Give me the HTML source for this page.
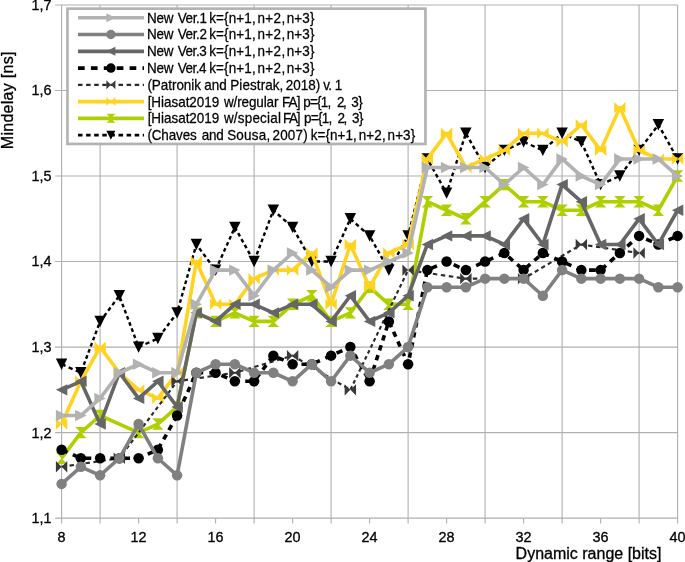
<!DOCTYPE html>
<html><head><meta charset="utf-8"><title>Chart</title>
<style>html,body{margin:0;padding:0;background:#fff}svg{display:block}</style></head>
<body>
<svg width="685" height="562" viewBox="0 0 685 562" font-family="'Liberation Sans', sans-serif">
<rect width="685" height="562" fill="#fff"/>
<path d="M55.1 518.12H677.60 M55.1 432.60H677.60 M55.1 347.08H677.60 M55.1 261.56H677.60 M55.1 176.04H677.60 M55.1 90.52H677.60 M55.1 5.00H677.60 M61.60 5.00V523.62 M100.10 5.00V523.62 M177.10 5.00V523.62 M254.10 5.00V523.62 M331.10 5.00V523.62 M408.10 5.00V523.62 M485.10 5.00V523.62 M562.10 5.00V523.62 M639.10 5.00V523.62 M677.60 5.00V523.62 M138.60 518.12V523.62 M215.60 518.12V523.62 M292.60 518.12V523.62 M369.60 518.12V523.62 M446.60 518.12V523.62 M523.60 518.12V523.62 M600.60 518.12V523.62" stroke="#b0b0b0" stroke-width="1.1" fill="none"/>
<g><path d="M61.60 364.18L65.53 365.93M68.67 367.32L72.59 369.07M75.74 370.46L79.66 372.21M81.49 371.03L82.77 367.61M83.80 364.87L85.08 361.45M86.11 358.71L87.40 355.29M88.42 352.55L89.71 349.13M90.73 346.39L92.02 342.96M93.05 340.23L94.33 336.80M95.36 334.07L96.64 330.64M97.67 327.90L98.95 324.48M99.98 321.74L100.10 321.42L102.19 318.64M104.03 316.19L106.33 313.12M108.17 310.66L110.48 307.59M112.32 305.14L114.62 302.07M116.46 299.62L118.77 296.55M120.05 297.64L121.34 301.06M122.36 303.80L123.65 307.22M124.67 309.96L125.96 313.38M126.99 316.12L128.27 319.54M129.30 322.28L130.58 325.71M131.61 328.44L132.89 331.87M133.92 334.60L135.20 338.03M136.23 340.77L137.52 344.19M138.54 346.93L138.60 347.08L142.35 345.41M145.49 344.02L149.42 342.27M152.56 340.88L156.49 339.13M158.89 337.14L161.20 334.07M163.04 331.61L165.34 328.55M167.18 326.09L169.48 323.02M171.33 320.57L173.63 317.50M175.47 315.04L177.10 312.87L177.39 311.85M178.17 309.07L179.15 305.58M179.94 302.79L180.92 299.31M181.70 296.52L182.68 293.03M183.47 290.24L184.45 286.76M185.23 283.97L186.21 280.48M187.00 277.70L187.98 274.21M188.76 271.42L189.74 267.94M190.53 265.15L191.51 261.66M192.29 258.87L193.27 255.39M194.06 252.60L195.04 249.11M195.82 246.32L196.35 244.46L197.42 245.88M199.26 248.33L201.56 251.40M203.40 253.86L205.71 256.93M207.55 259.38L209.85 262.45M211.69 264.90L213.99 267.97M215.76 269.77L217.27 266.40M218.48 263.71L220.00 260.35M221.21 257.66L222.72 254.30M223.93 251.60L225.45 248.24M226.66 245.55L228.17 242.19M229.38 239.50L230.90 236.13M232.11 233.44L233.62 230.08M234.83 227.39L234.85 227.35L236.66 230.58M238.13 233.19L239.97 236.45M241.44 239.06L243.27 242.32M244.74 244.92L246.57 248.19M248.04 250.79L249.88 254.06M251.35 256.66L253.18 259.93M254.48 260.54L255.77 257.11M256.80 254.38L258.08 250.95M259.11 248.21L260.39 244.79M261.42 242.05L262.70 238.63M263.73 235.89L265.01 232.47M266.04 229.73L267.32 226.31M268.35 223.57L269.64 220.15M270.66 217.41L271.95 213.99M272.98 211.25L273.35 210.25L275.47 212.13M277.87 214.26L280.87 216.93M283.27 219.06L286.26 221.72M288.66 223.85L291.66 226.52M293.49 228.94L295.33 232.20M296.80 234.81L298.63 238.07M300.10 240.68L301.93 243.94M303.40 246.55L305.24 249.81M306.71 252.42L308.54 255.68M310.01 258.29L311.84 261.55M315.43 261.56L319.93 261.56M323.53 261.56L328.03 261.56M331.28 261.16L332.79 257.80M334.01 255.11L335.52 251.74M336.73 249.05L338.24 245.69M339.46 243.00L340.97 239.64M342.18 236.95L343.70 233.58M344.91 230.89L346.42 227.53M347.63 224.84L349.15 221.47M350.36 218.81L353.36 221.48M355.76 223.61L358.76 226.27M361.16 228.40L364.15 231.06M366.55 233.20L369.55 235.86M371.04 238.46L372.87 241.72M374.34 244.33L376.18 247.59M377.64 250.20L379.48 253.46M380.95 256.07L382.78 259.33M384.25 261.94L386.08 265.20M387.55 267.81L388.85 270.11L389.39 269.16M390.86 266.55L392.69 263.29M394.16 260.68L395.99 257.42M397.46 254.81L399.30 251.55M400.77 248.94L402.60 245.68M404.07 243.07L405.90 239.81M407.37 237.20L408.10 235.90L408.63 233.79M409.33 230.99L410.21 227.49M410.91 224.68L411.78 221.18M412.48 218.38L413.36 214.87M414.06 212.07L414.94 208.57M415.64 205.77L416.51 202.26M417.21 199.46L418.09 195.96M418.79 193.16L419.67 189.65M420.37 186.85L421.24 183.35M421.95 180.54L422.82 177.04M423.52 174.24L424.40 170.74M425.10 167.93L425.98 164.43M426.68 161.63L427.35 158.94L427.77 159.69M429.24 162.30L431.08 165.56M432.55 168.17L434.38 171.43M435.85 174.04L437.68 177.30M439.15 179.91L440.99 183.17M442.46 185.78L444.29 189.04M445.76 191.65L446.60 193.14L447.20 191.27M448.09 188.50L449.21 185.04M450.10 182.27L451.21 178.81M452.10 176.04L453.21 172.58M454.10 169.82L455.21 166.35M456.10 163.59L457.22 160.13M458.11 157.36L459.22 153.90M460.11 151.13L461.22 147.67M462.11 144.90L463.23 141.44M464.12 138.67L465.23 135.21M466.29 134.07L468.13 137.33M469.60 139.94L471.43 143.20M472.90 145.81L474.74 149.07M476.20 151.68L478.04 154.94M479.51 157.55L481.34 160.81M482.81 163.42L484.65 166.68M486.76 166.02L489.75 163.35M492.15 161.22L495.15 158.56M497.55 156.43L500.55 153.76M502.94 151.63L504.35 150.38L506.43 149.46M509.58 148.06L513.50 146.32M516.64 144.92L520.57 143.18M523.71 141.88L527.64 143.63M530.78 145.02L534.71 146.77M537.85 148.16L541.77 149.91M544.43 148.98L547.42 146.32M549.82 144.19L552.82 141.53M555.22 139.39L558.22 136.73M560.61 134.60L562.10 133.28L564.08 134.16M567.22 135.56L571.15 137.30M574.29 138.70L578.22 140.44M581.35 141.84L582.87 145.20M584.08 147.89L585.59 151.26M586.80 153.95L588.32 157.31M589.53 160.00L591.04 163.36M592.25 166.05L593.77 169.42M594.98 172.11L596.49 175.47M597.71 178.16L599.22 181.53M600.43 184.22L600.60 184.59L604.09 183.04M607.23 181.65L611.16 179.90M614.30 178.51L618.22 176.76M620.74 174.86L623.04 171.79M624.88 169.33L627.18 166.26M629.03 163.81L631.33 160.74M633.17 158.29L635.47 155.22M637.32 152.76L639.10 150.38L639.62 149.69M641.46 147.24L643.76 144.17M645.60 141.72L647.91 138.65M649.75 136.19L652.05 133.12M653.89 130.67L656.19 127.60M658.04 125.15L658.35 124.73L659.94 127.55M661.40 130.15L663.24 133.41M664.71 136.02L666.54 139.28M668.01 141.89L669.84 145.15M671.31 147.76L673.15 151.02M674.62 153.63L676.45 156.89" fill="none" stroke="#000000" stroke-width="2.4" stroke-linejoin="round"/>
<polygon points="55.90,358.48 67.30,358.48 61.60,369.88" fill="#000000"/><polygon points="75.15,367.04 86.55,367.04 80.85,378.44" fill="#000000"/><polygon points="94.40,315.72 105.80,315.72 100.10,327.12" fill="#000000"/><polygon points="113.65,290.07 125.05,290.07 119.35,301.47" fill="#000000"/><polygon points="132.90,341.38 144.30,341.38 138.60,352.78" fill="#000000"/><polygon points="152.15,332.83 163.55,332.83 157.85,344.23" fill="#000000"/><polygon points="171.40,307.17 182.80,307.17 177.10,318.57" fill="#000000"/><polygon points="190.65,238.76 202.05,238.76 196.35,250.16" fill="#000000"/><polygon points="209.90,264.41 221.30,264.41 215.60,275.81" fill="#000000"/><polygon points="229.15,221.65 240.55,221.65 234.85,233.05" fill="#000000"/><polygon points="248.40,255.86 259.80,255.86 254.10,267.26" fill="#000000"/><polygon points="267.65,204.55 279.05,204.55 273.35,215.95" fill="#000000"/><polygon points="286.90,221.65 298.30,221.65 292.60,233.05" fill="#000000"/><polygon points="306.15,255.86 317.55,255.86 311.85,267.26" fill="#000000"/><polygon points="325.40,255.86 336.80,255.86 331.10,267.26" fill="#000000"/><polygon points="344.65,213.10 356.05,213.10 350.35,224.50" fill="#000000"/><polygon points="363.90,230.20 375.30,230.20 369.60,241.60" fill="#000000"/><polygon points="383.15,264.41 394.55,264.41 388.85,275.81" fill="#000000"/><polygon points="402.40,230.20 413.80,230.20 408.10,241.60" fill="#000000"/><polygon points="421.65,153.24 433.05,153.24 427.35,164.64" fill="#000000"/><polygon points="440.90,187.44 452.30,187.44 446.60,198.84" fill="#000000"/><polygon points="460.15,127.58 471.55,127.58 465.85,138.98" fill="#000000"/><polygon points="479.40,161.79 490.80,161.79 485.10,173.19" fill="#000000"/><polygon points="498.65,144.68 510.05,144.68 504.35,156.08" fill="#000000"/><polygon points="517.90,136.13 529.30,136.13 523.60,147.53" fill="#000000"/><polygon points="537.15,144.68 548.55,144.68 542.85,156.08" fill="#000000"/><polygon points="556.40,127.58 567.80,127.58 562.10,138.98" fill="#000000"/><polygon points="575.65,136.13 587.05,136.13 581.35,147.53" fill="#000000"/><polygon points="594.90,178.89 606.30,178.89 600.60,190.29" fill="#000000"/><polygon points="614.15,170.34 625.55,170.34 619.85,181.74" fill="#000000"/><polygon points="633.40,144.68 644.80,144.68 639.10,156.08" fill="#000000"/><polygon points="652.65,119.03 664.05,119.03 658.35,130.43" fill="#000000"/><polygon points="671.90,153.24 683.30,153.24 677.60,164.64" fill="#000000"/>
</g>
<g><polyline points="61.60,458.26 80.85,432.60 100.10,415.50 119.35,424.05 138.60,432.60 157.85,424.05 177.10,406.94 196.35,312.87 215.60,321.42 234.85,312.87 254.10,321.42 273.35,321.42 292.60,304.32 311.85,295.77 331.10,321.42 350.35,312.87 369.60,287.22 388.85,304.32 408.10,304.32 427.35,201.70 446.60,210.25 465.85,218.80 485.10,201.70 504.35,184.59 523.60,201.70 542.85,201.70 562.10,210.25 581.35,210.25 600.60,201.70 619.85,201.70 639.10,201.70 658.35,210.25 677.60,176.04" fill="none" stroke="#aecf00" stroke-width="3.6" stroke-linejoin="round"/>
<polygon points="55.90,452.56 67.30,452.56 61.60,458.26 67.30,463.96 55.90,463.96 61.60,458.26" fill="#aecf00"/><polygon points="75.15,426.90 86.55,426.90 80.85,432.60 86.55,438.30 75.15,438.30 80.85,432.60" fill="#aecf00"/><polygon points="94.40,409.80 105.80,409.80 100.10,415.50 105.80,421.20 94.40,421.20 100.10,415.50" fill="#aecf00"/><polygon points="132.90,426.90 144.30,426.90 138.60,432.60 144.30,438.30 132.90,438.30 138.60,432.60" fill="#aecf00"/><polygon points="152.15,418.35 163.55,418.35 157.85,424.05 163.55,429.75 152.15,429.75 157.85,424.05" fill="#aecf00"/><polygon points="171.40,401.24 182.80,401.24 177.10,406.94 182.80,412.64 171.40,412.64 177.10,406.94" fill="#aecf00"/><polygon points="190.65,307.17 202.05,307.17 196.35,312.87 202.05,318.57 190.65,318.57 196.35,312.87" fill="#aecf00"/><polygon points="209.90,315.72 221.30,315.72 215.60,321.42 221.30,327.12 209.90,327.12 215.60,321.42" fill="#aecf00"/><polygon points="229.15,307.17 240.55,307.17 234.85,312.87 240.55,318.57 229.15,318.57 234.85,312.87" fill="#aecf00"/><polygon points="248.40,315.72 259.80,315.72 254.10,321.42 259.80,327.12 248.40,327.12 254.10,321.42" fill="#aecf00"/><polygon points="267.65,315.72 279.05,315.72 273.35,321.42 279.05,327.12 267.65,327.12 273.35,321.42" fill="#aecf00"/><polygon points="286.90,298.62 298.30,298.62 292.60,304.32 298.30,310.02 286.90,310.02 292.60,304.32" fill="#aecf00"/><polygon points="306.15,290.07 317.55,290.07 311.85,295.77 317.55,301.47 306.15,301.47 311.85,295.77" fill="#aecf00"/><polygon points="325.40,315.72 336.80,315.72 331.10,321.42 336.80,327.12 325.40,327.12 331.10,321.42" fill="#aecf00"/><polygon points="344.65,307.17 356.05,307.17 350.35,312.87 356.05,318.57 344.65,318.57 350.35,312.87" fill="#aecf00"/><polygon points="363.90,281.52 375.30,281.52 369.60,287.22 375.30,292.92 363.90,292.92 369.60,287.22" fill="#aecf00"/><polygon points="383.15,298.62 394.55,298.62 388.85,304.32 394.55,310.02 383.15,310.02 388.85,304.32" fill="#aecf00"/><polygon points="402.40,298.62 413.80,298.62 408.10,304.32 413.80,310.02 402.40,310.02 408.10,304.32" fill="#aecf00"/><polygon points="421.65,196.00 433.05,196.00 427.35,201.70 433.05,207.40 421.65,207.40 427.35,201.70" fill="#aecf00"/><polygon points="440.90,204.55 452.30,204.55 446.60,210.25 452.30,215.95 440.90,215.95 446.60,210.25" fill="#aecf00"/><polygon points="460.15,213.10 471.55,213.10 465.85,218.80 471.55,224.50 460.15,224.50 465.85,218.80" fill="#aecf00"/><polygon points="479.40,196.00 490.80,196.00 485.10,201.70 490.80,207.40 479.40,207.40 485.10,201.70" fill="#aecf00"/><polygon points="498.65,178.89 510.05,178.89 504.35,184.59 510.05,190.29 498.65,190.29 504.35,184.59" fill="#aecf00"/><polygon points="517.90,196.00 529.30,196.00 523.60,201.70 529.30,207.40 517.90,207.40 523.60,201.70" fill="#aecf00"/><polygon points="537.15,196.00 548.55,196.00 542.85,201.70 548.55,207.40 537.15,207.40 542.85,201.70" fill="#aecf00"/><polygon points="556.40,204.55 567.80,204.55 562.10,210.25 567.80,215.95 556.40,215.95 562.10,210.25" fill="#aecf00"/><polygon points="575.65,204.55 587.05,204.55 581.35,210.25 587.05,215.95 575.65,215.95 581.35,210.25" fill="#aecf00"/><polygon points="594.90,196.00 606.30,196.00 600.60,201.70 606.30,207.40 594.90,207.40 600.60,201.70" fill="#aecf00"/><polygon points="614.15,196.00 625.55,196.00 619.85,201.70 625.55,207.40 614.15,207.40 619.85,201.70" fill="#aecf00"/><polygon points="633.40,196.00 644.80,196.00 639.10,201.70 644.80,207.40 633.40,207.40 639.10,201.70" fill="#aecf00"/><polygon points="652.65,204.55 664.05,204.55 658.35,210.25 664.05,215.95 652.65,215.95 658.35,210.25" fill="#aecf00"/><polygon points="671.90,170.34 683.30,170.34 677.60,176.04 683.30,181.74 671.90,181.74 677.60,176.04" fill="#aecf00"/>
</g>
<g><polyline points="61.60,424.05 80.85,381.29 100.10,347.08 119.35,372.74 138.60,389.84 157.85,398.39 177.10,372.74 196.35,261.56 215.60,304.32 234.85,304.32 254.10,278.66 273.35,270.11 292.60,270.11 311.85,253.01 331.10,304.32 350.35,244.46 369.60,287.22 388.85,253.01 408.10,244.46 427.35,158.94 446.60,133.28 465.85,167.49 485.10,158.94 504.35,150.38 523.60,133.28 542.85,133.28 562.10,141.83 581.35,124.73 600.60,150.38 619.85,107.62 639.10,150.38 658.35,158.94 677.60,158.94" fill="none" stroke="#ffd320" stroke-width="3.6" stroke-linejoin="round"/>
<polygon points="55.90,418.35 61.60,424.05 67.30,418.35 67.30,429.75 61.60,424.05 55.90,429.75" fill="#ffd320"/><polygon points="75.15,375.59 80.85,381.29 86.55,375.59 86.55,386.99 80.85,381.29 75.15,386.99" fill="#ffd320"/><polygon points="94.40,341.38 100.10,347.08 105.80,341.38 105.80,352.78 100.10,347.08 94.40,352.78" fill="#ffd320"/><polygon points="113.65,367.04 119.35,372.74 125.05,367.04 125.05,378.44 119.35,372.74 113.65,378.44" fill="#ffd320"/><polygon points="132.90,384.14 138.60,389.84 144.30,384.14 144.30,395.54 138.60,389.84 132.90,395.54" fill="#ffd320"/><polygon points="152.15,392.69 157.85,398.39 163.55,392.69 163.55,404.09 157.85,398.39 152.15,404.09" fill="#ffd320"/><polygon points="171.40,367.04 177.10,372.74 182.80,367.04 182.80,378.44 177.10,372.74 171.40,378.44" fill="#ffd320"/><polygon points="190.65,255.86 196.35,261.56 202.05,255.86 202.05,267.26 196.35,261.56 190.65,267.26" fill="#ffd320"/><polygon points="209.90,298.62 215.60,304.32 221.30,298.62 221.30,310.02 215.60,304.32 209.90,310.02" fill="#ffd320"/><polygon points="229.15,298.62 234.85,304.32 240.55,298.62 240.55,310.02 234.85,304.32 229.15,310.02" fill="#ffd320"/><polygon points="248.40,272.96 254.10,278.66 259.80,272.96 259.80,284.36 254.10,278.66 248.40,284.36" fill="#ffd320"/><polygon points="267.65,264.41 273.35,270.11 279.05,264.41 279.05,275.81 273.35,270.11 267.65,275.81" fill="#ffd320"/><polygon points="286.90,264.41 292.60,270.11 298.30,264.41 298.30,275.81 292.60,270.11 286.90,275.81" fill="#ffd320"/><polygon points="306.15,247.31 311.85,253.01 317.55,247.31 317.55,258.71 311.85,253.01 306.15,258.71" fill="#ffd320"/><polygon points="325.40,298.62 331.10,304.32 336.80,298.62 336.80,310.02 331.10,304.32 325.40,310.02" fill="#ffd320"/><polygon points="344.65,238.76 350.35,244.46 356.05,238.76 356.05,250.16 350.35,244.46 344.65,250.16" fill="#ffd320"/><polygon points="363.90,281.52 369.60,287.22 375.30,281.52 375.30,292.92 369.60,287.22 363.90,292.92" fill="#ffd320"/><polygon points="383.15,247.31 388.85,253.01 394.55,247.31 394.55,258.71 388.85,253.01 383.15,258.71" fill="#ffd320"/><polygon points="402.40,238.76 408.10,244.46 413.80,238.76 413.80,250.16 408.10,244.46 402.40,250.16" fill="#ffd320"/><polygon points="421.65,153.24 427.35,158.94 433.05,153.24 433.05,164.64 427.35,158.94 421.65,164.64" fill="#ffd320"/><polygon points="440.90,127.58 446.60,133.28 452.30,127.58 452.30,138.98 446.60,133.28 440.90,138.98" fill="#ffd320"/><polygon points="460.15,161.79 465.85,167.49 471.55,161.79 471.55,173.19 465.85,167.49 460.15,173.19" fill="#ffd320"/><polygon points="479.40,153.24 485.10,158.94 490.80,153.24 490.80,164.64 485.10,158.94 479.40,164.64" fill="#ffd320"/><polygon points="498.65,144.68 504.35,150.38 510.05,144.68 510.05,156.08 504.35,150.38 498.65,156.08" fill="#ffd320"/><polygon points="517.90,127.58 523.60,133.28 529.30,127.58 529.30,138.98 523.60,133.28 517.90,138.98" fill="#ffd320"/><polygon points="537.15,127.58 542.85,133.28 548.55,127.58 548.55,138.98 542.85,133.28 537.15,138.98" fill="#ffd320"/><polygon points="556.40,136.13 562.10,141.83 567.80,136.13 567.80,147.53 562.10,141.83 556.40,147.53" fill="#ffd320"/><polygon points="575.65,119.03 581.35,124.73 587.05,119.03 587.05,130.43 581.35,124.73 575.65,130.43" fill="#ffd320"/><polygon points="594.90,144.68 600.60,150.38 606.30,144.68 606.30,156.08 600.60,150.38 594.90,156.08" fill="#ffd320"/><polygon points="614.15,101.92 619.85,107.62 625.55,101.92 625.55,113.32 619.85,107.62 614.15,113.32" fill="#ffd320"/><polygon points="633.40,144.68 639.10,150.38 644.80,144.68 644.80,156.08 639.10,150.38 633.40,156.08" fill="#ffd320"/><polygon points="652.65,153.24 658.35,158.94 664.05,153.24 664.05,164.64 658.35,158.94 652.65,164.64" fill="#ffd320"/><polygon points="671.90,153.24 677.60,158.94 683.30,153.24 683.30,164.64 677.60,158.94 671.90,164.64" fill="#ffd320"/>
</g>
<g><path d="M61.60 466.81L66.02 466.15M69.56 465.63L73.99 464.97M77.53 464.45L81.95 463.79M85.49 463.27L89.91 462.62M93.45 462.09L97.87 461.44M101.41 460.91L105.84 460.26M109.38 459.73L113.80 459.08M117.34 458.55L119.35 458.26L120.61 456.58M122.45 454.13L124.75 451.06M126.59 448.60L128.89 445.54M130.74 443.08L133.04 440.01M134.88 437.56L137.18 434.49M139.02 432.03L141.33 428.97M143.17 426.51L145.47 423.44M147.31 420.99L149.62 417.92M151.46 415.46L153.76 412.40M155.60 409.94L157.90 406.87M159.75 404.42L162.05 401.35M163.89 398.89L166.19 395.83M168.03 393.37L170.34 390.30M172.18 387.85L174.48 384.78M176.32 382.32L177.10 381.29L180.03 380.85M183.57 380.33L187.99 379.67M191.53 379.15L195.96 378.50M199.49 377.97L203.92 377.32M207.46 376.79L211.88 376.14M215.42 375.61L219.84 374.96M223.38 374.43L227.81 373.78M231.34 373.26L234.85 372.74L235.73 372.48M239.10 371.48L243.31 370.23M246.69 369.23L250.90 367.98M254.28 366.98L258.49 365.73M261.86 364.73L266.08 363.49M269.45 362.49L273.67 361.24M277.04 360.24L281.26 358.99M284.63 357.99L288.85 356.74M292.22 355.74L292.60 355.63L295.88 357.58M298.77 359.28L302.37 361.42M305.26 363.13L308.86 365.27M311.75 366.97L315.36 369.11M318.24 370.82L321.85 372.96M324.73 374.67L328.34 376.80M331.22 378.51L334.83 380.65M337.71 382.36L341.32 384.49M344.21 386.20L347.81 388.34M350.50 389.52L352.11 386.18M353.40 383.52L355.01 380.18M356.30 377.51L357.91 374.18M359.19 371.51L360.80 368.17M362.09 365.50L363.70 362.17M364.98 359.50L366.59 356.17M367.88 353.50L369.49 350.16M370.78 347.49L372.38 344.16M373.67 341.49L375.28 338.15M376.57 335.49L378.18 332.15M379.46 329.48L381.07 326.15M382.36 323.48L383.97 320.14M385.25 317.47L386.86 314.14M388.15 311.47L389.76 308.14M391.05 305.47L392.66 302.13M393.94 299.46L395.55 296.13M396.84 293.46L398.45 290.12M399.73 287.46L401.34 284.12M402.63 281.45L404.24 278.12M405.53 275.45L407.13 272.11M408.98 270.24L413.41 270.90M416.95 271.42L421.37 272.08M424.91 272.60L429.33 273.26M432.87 273.78L437.30 274.44M440.83 274.96L445.26 275.61M448.80 276.14L453.22 276.79M456.76 277.32L461.18 277.97M464.72 278.50L465.85 278.66L469.20 278.66M472.80 278.66L477.30 278.66M480.90 278.66L485.40 278.66M489.00 278.66L493.50 278.66M497.10 278.66L501.60 278.66M505.20 278.66L509.70 278.66M513.30 278.66L517.80 278.66M521.40 278.66L523.60 278.66L525.45 277.57M528.33 275.86L531.94 273.73M534.82 272.02L538.43 269.88M541.31 268.17L544.92 266.04M547.80 264.33L551.41 262.19M554.30 260.48L557.90 258.35M560.79 256.64L564.39 254.50M567.28 252.79L570.88 250.65M573.77 248.95L577.38 246.81M580.26 245.10L581.35 244.46L584.44 244.91M587.98 245.44L592.40 246.09M595.94 246.62L600.36 247.27M603.90 247.80L608.33 248.45M611.86 248.97L616.29 249.63M619.83 250.15L624.25 250.81M627.79 251.33L632.21 251.99M635.75 252.51L639.10 253.01" fill="none" stroke="#2a2a2a" stroke-width="2.15" stroke-linejoin="round"/>
<polygon points="55.90,461.11 61.60,466.81 67.30,461.11 67.30,472.51 61.60,466.81 55.90,472.51" fill="#3a3a3a"/><polygon points="113.65,452.56 119.35,458.26 125.05,452.56 125.05,463.96 119.35,458.26 113.65,463.96" fill="#3a3a3a"/><polygon points="171.40,375.59 177.10,381.29 182.80,375.59 182.80,386.99 177.10,381.29 171.40,386.99" fill="#3a3a3a"/><polygon points="229.15,367.04 234.85,372.74 240.55,367.04 240.55,378.44 234.85,372.74 229.15,378.44" fill="#3a3a3a"/><polygon points="286.90,349.93 292.60,355.63 298.30,349.93 298.30,361.33 292.60,355.63 286.90,361.33" fill="#3a3a3a"/><polygon points="344.65,384.14 350.35,389.84 356.05,384.14 356.05,395.54 350.35,389.84 344.65,395.54" fill="#3a3a3a"/><polygon points="402.40,264.41 408.10,270.11 413.80,264.41 413.80,275.81 408.10,270.11 402.40,275.81" fill="#3a3a3a"/><polygon points="460.15,272.96 465.85,278.66 471.55,272.96 471.55,284.36 465.85,278.66 460.15,284.36" fill="#3a3a3a"/><polygon points="517.90,272.96 523.60,278.66 529.30,272.96 529.30,284.36 523.60,278.66 517.90,284.36" fill="#3a3a3a"/><polygon points="575.65,238.76 581.35,244.46 587.05,238.76 587.05,250.16 581.35,244.46 575.65,250.16" fill="#3a3a3a"/><polygon points="633.40,247.31 639.10,253.01 644.80,247.31 644.80,258.71 639.10,253.01 633.40,258.71" fill="#3a3a3a"/>
</g>
<g><path d="M61.60 449.70L67.45 452.30M72.86 454.70L78.70 457.30M84.59 458.26L91.29 458.26M97.49 458.26L100.10 458.26L104.19 458.26M110.39 458.26L117.09 458.26M123.29 458.26L129.99 458.26M136.19 458.26L138.60 458.26L142.34 456.59M147.75 454.19L153.60 451.59M158.39 448.74L161.12 443.89M163.65 439.39L166.38 434.54M168.91 430.04L171.65 425.19M174.17 420.70L176.91 415.84M179.03 411.22L181.28 406.21M183.37 401.58L185.62 396.57M187.71 391.94L189.96 386.93M192.05 382.30L194.30 377.29M196.46 372.74L203.16 372.74M209.36 372.74L215.60 372.74L216.00 372.91M221.41 375.32L227.26 377.92M232.67 380.32L234.85 381.29L239.05 381.29M245.25 381.29L251.95 381.29M256.17 378.53L259.60 373.96M262.77 369.73L266.20 365.16M269.37 360.93L272.80 356.36M277.82 357.62L283.67 360.22M289.08 362.62L292.60 364.18L295.26 364.18M301.46 364.18L308.16 364.18M314.04 363.21L319.89 360.61M325.30 358.21L331.10 355.63L331.15 355.61M336.56 353.21L342.40 350.61M347.81 348.21L350.35 347.08L351.90 349.83M354.43 354.32L357.16 359.18M359.69 363.67L362.42 368.52M364.95 373.02L367.68 377.87M369.97 380.14L371.62 374.99M373.16 370.22L374.81 365.07M376.35 360.30L378.00 355.15M379.54 350.38L381.19 345.23M382.73 340.46L384.38 335.31M385.92 330.54L387.57 325.39M389.20 322.20L391.45 327.21M393.54 331.84L395.80 336.85M397.88 341.48L400.14 346.49M402.22 351.13L404.48 356.13M406.56 360.77L408.10 364.18L408.44 362.52M409.44 357.66L410.51 352.41M411.50 347.55L412.58 342.31M413.57 337.45L414.64 332.20M415.64 327.34L416.71 322.09M417.71 317.24L418.78 311.99M419.77 307.13L420.85 301.88M421.84 297.03L422.92 291.78M423.91 286.92L424.98 281.67M425.98 276.81L427.05 271.57M431.14 268.43L436.99 265.83M442.40 263.43L446.60 261.56L448.24 262.29M453.65 264.69L459.50 267.29M464.91 269.69L465.85 270.11L470.76 267.93M476.17 265.53L482.01 262.93M487.42 260.53L493.27 257.93M498.68 255.53L504.35 253.01L504.48 253.13M508.61 256.80L513.08 260.76M517.21 264.43L521.67 268.40M525.80 268.16L530.27 264.19M534.40 260.52L538.86 256.55M543.03 253.09L548.88 255.69M554.29 258.09L560.13 260.69M565.54 263.09L571.39 265.69M576.80 268.09L581.35 270.11L582.84 270.11M589.04 270.11L595.74 270.11M601.49 269.32L605.95 265.35M610.08 261.68L614.55 257.72M618.68 254.05L619.85 253.01L623.14 250.08M627.27 246.41L631.73 242.45M635.87 238.78L639.10 235.90L640.71 236.62M646.12 239.02L651.97 241.62M657.38 244.02L658.35 244.46L663.22 242.29M668.63 239.89L674.48 237.29" fill="none" stroke="#000000" stroke-width="3.6" stroke-linejoin="round"/>
<circle cx="61.60" cy="449.70" r="5.25" fill="#000000"/><circle cx="80.85" cy="458.26" r="5.25" fill="#000000"/><circle cx="100.10" cy="458.26" r="5.25" fill="#000000"/><circle cx="119.35" cy="458.26" r="5.25" fill="#000000"/><circle cx="138.60" cy="458.26" r="5.25" fill="#000000"/><circle cx="157.85" cy="449.70" r="5.25" fill="#000000"/><circle cx="177.10" cy="415.50" r="5.25" fill="#000000"/><circle cx="196.35" cy="372.74" r="5.25" fill="#000000"/><circle cx="215.60" cy="372.74" r="5.25" fill="#000000"/><circle cx="234.85" cy="381.29" r="5.25" fill="#000000"/><circle cx="254.10" cy="381.29" r="5.25" fill="#000000"/><circle cx="273.35" cy="355.63" r="5.25" fill="#000000"/><circle cx="292.60" cy="364.18" r="5.25" fill="#000000"/><circle cx="311.85" cy="364.18" r="5.25" fill="#000000"/><circle cx="331.10" cy="355.63" r="5.25" fill="#000000"/><circle cx="350.35" cy="347.08" r="5.25" fill="#000000"/><circle cx="369.60" cy="381.29" r="5.25" fill="#000000"/><circle cx="388.85" cy="321.42" r="5.25" fill="#000000"/><circle cx="408.10" cy="364.18" r="5.25" fill="#000000"/><circle cx="427.35" cy="270.11" r="5.25" fill="#000000"/><circle cx="446.60" cy="261.56" r="5.25" fill="#000000"/><circle cx="465.85" cy="270.11" r="5.25" fill="#000000"/><circle cx="485.10" cy="261.56" r="5.25" fill="#000000"/><circle cx="504.35" cy="253.01" r="5.25" fill="#000000"/><circle cx="523.60" cy="270.11" r="5.25" fill="#000000"/><circle cx="542.85" cy="253.01" r="5.25" fill="#000000"/><circle cx="562.10" cy="261.56" r="5.25" fill="#000000"/><circle cx="581.35" cy="270.11" r="5.25" fill="#000000"/><circle cx="600.60" cy="270.11" r="5.25" fill="#000000"/><circle cx="619.85" cy="253.01" r="5.25" fill="#000000"/><circle cx="639.10" cy="235.90" r="5.25" fill="#000000"/><circle cx="658.35" cy="244.46" r="5.25" fill="#000000"/><circle cx="677.60" cy="235.90" r="5.25" fill="#000000"/>
</g>
<g><polyline points="61.60,389.84 80.85,381.29 100.10,424.05 119.35,372.74 138.60,398.39 157.85,381.29 177.10,406.94 196.35,312.87 215.60,321.42 234.85,304.32 254.10,304.32 273.35,312.87 292.60,304.32 311.85,304.32 331.10,321.42 350.35,295.77 369.60,321.42 388.85,312.87 408.10,295.77 427.35,244.46 446.60,235.90 465.85,235.90 485.10,235.90 504.35,244.46 523.60,218.80 542.85,244.46 562.10,184.59 581.35,201.70 600.60,244.46 619.85,244.46 639.10,218.80 658.35,244.46 677.60,210.25" fill="none" stroke="#666666" stroke-width="3.6" stroke-linejoin="round"/>
<polygon points="67.30,384.14 55.90,389.84 67.30,395.54" fill="#666666"/><polygon points="86.55,375.59 75.15,381.29 86.55,386.99" fill="#666666"/><polygon points="105.80,418.35 94.40,424.05 105.80,429.75" fill="#666666"/><polygon points="125.05,367.04 113.65,372.74 125.05,378.44" fill="#666666"/><polygon points="144.30,392.69 132.90,398.39 144.30,404.09" fill="#666666"/><polygon points="163.55,375.59 152.15,381.29 163.55,386.99" fill="#666666"/><polygon points="182.80,401.24 171.40,406.94 182.80,412.64" fill="#666666"/><polygon points="202.05,307.17 190.65,312.87 202.05,318.57" fill="#666666"/><polygon points="221.30,315.72 209.90,321.42 221.30,327.12" fill="#666666"/><polygon points="240.55,298.62 229.15,304.32 240.55,310.02" fill="#666666"/><polygon points="259.80,298.62 248.40,304.32 259.80,310.02" fill="#666666"/><polygon points="279.05,307.17 267.65,312.87 279.05,318.57" fill="#666666"/><polygon points="298.30,298.62 286.90,304.32 298.30,310.02" fill="#666666"/><polygon points="317.55,298.62 306.15,304.32 317.55,310.02" fill="#666666"/><polygon points="336.80,315.72 325.40,321.42 336.80,327.12" fill="#666666"/><polygon points="356.05,290.07 344.65,295.77 356.05,301.47" fill="#666666"/><polygon points="375.30,315.72 363.90,321.42 375.30,327.12" fill="#666666"/><polygon points="394.55,307.17 383.15,312.87 394.55,318.57" fill="#666666"/><polygon points="413.80,290.07 402.40,295.77 413.80,301.47" fill="#666666"/><polygon points="433.05,238.76 421.65,244.46 433.05,250.16" fill="#666666"/><polygon points="452.30,230.20 440.90,235.90 452.30,241.60" fill="#666666"/><polygon points="471.55,230.20 460.15,235.90 471.55,241.60" fill="#666666"/><polygon points="490.80,230.20 479.40,235.90 490.80,241.60" fill="#666666"/><polygon points="510.05,238.76 498.65,244.46 510.05,250.16" fill="#666666"/><polygon points="529.30,213.10 517.90,218.80 529.30,224.50" fill="#666666"/><polygon points="548.55,238.76 537.15,244.46 548.55,250.16" fill="#666666"/><polygon points="567.80,178.89 556.40,184.59 567.80,190.29" fill="#666666"/><polygon points="587.05,196.00 575.65,201.70 587.05,207.40" fill="#666666"/><polygon points="606.30,238.76 594.90,244.46 606.30,250.16" fill="#666666"/><polygon points="625.55,238.76 614.15,244.46 625.55,250.16" fill="#666666"/><polygon points="644.80,213.10 633.40,218.80 644.80,224.50" fill="#666666"/><polygon points="664.05,238.76 652.65,244.46 664.05,250.16" fill="#666666"/><polygon points="683.30,204.55 671.90,210.25 683.30,215.95" fill="#666666"/>
</g>
<g><polyline points="61.60,483.91 80.85,466.81 100.10,475.36 119.35,458.26 138.60,424.05 157.85,458.26 177.10,475.36 196.35,372.74 215.60,364.18 234.85,364.18 254.10,372.74 273.35,372.74 292.60,381.29 311.85,364.18 331.10,381.29 350.35,355.63 369.60,372.74 388.85,364.18 408.10,347.08 427.35,287.22 446.60,287.22 465.85,287.22 485.10,278.66 504.35,278.66 523.60,278.66 542.85,295.77 562.10,270.11 581.35,278.66 600.60,278.66 619.85,278.66 639.10,278.66 658.35,287.22 677.60,287.22" fill="none" stroke="#808080" stroke-width="3.6" stroke-linejoin="round"/>
<circle cx="61.60" cy="483.91" r="5.25" fill="#808080"/><circle cx="80.85" cy="466.81" r="5.25" fill="#808080"/><circle cx="100.10" cy="475.36" r="5.25" fill="#808080"/><circle cx="119.35" cy="458.26" r="5.25" fill="#808080"/><circle cx="138.60" cy="424.05" r="5.25" fill="#808080"/><circle cx="157.85" cy="458.26" r="5.25" fill="#808080"/><circle cx="177.10" cy="475.36" r="5.25" fill="#808080"/><circle cx="196.35" cy="372.74" r="5.25" fill="#808080"/><circle cx="215.60" cy="364.18" r="5.25" fill="#808080"/><circle cx="234.85" cy="364.18" r="5.25" fill="#808080"/><circle cx="254.10" cy="372.74" r="5.25" fill="#808080"/><circle cx="273.35" cy="372.74" r="5.25" fill="#808080"/><circle cx="292.60" cy="381.29" r="5.25" fill="#808080"/><circle cx="311.85" cy="364.18" r="5.25" fill="#808080"/><circle cx="331.10" cy="381.29" r="5.25" fill="#808080"/><circle cx="350.35" cy="355.63" r="5.25" fill="#808080"/><circle cx="369.60" cy="372.74" r="5.25" fill="#808080"/><circle cx="388.85" cy="364.18" r="5.25" fill="#808080"/><circle cx="408.10" cy="347.08" r="5.25" fill="#808080"/><circle cx="427.35" cy="287.22" r="5.25" fill="#808080"/><circle cx="446.60" cy="287.22" r="5.25" fill="#808080"/><circle cx="465.85" cy="287.22" r="5.25" fill="#808080"/><circle cx="485.10" cy="278.66" r="5.25" fill="#808080"/><circle cx="504.35" cy="278.66" r="5.25" fill="#808080"/><circle cx="523.60" cy="278.66" r="5.25" fill="#808080"/><circle cx="542.85" cy="295.77" r="5.25" fill="#808080"/><circle cx="562.10" cy="270.11" r="5.25" fill="#808080"/><circle cx="581.35" cy="278.66" r="5.25" fill="#808080"/><circle cx="600.60" cy="278.66" r="5.25" fill="#808080"/><circle cx="619.85" cy="278.66" r="5.25" fill="#808080"/><circle cx="639.10" cy="278.66" r="5.25" fill="#808080"/><circle cx="658.35" cy="287.22" r="5.25" fill="#808080"/><circle cx="677.60" cy="287.22" r="5.25" fill="#808080"/>
</g>
<g><polyline points="61.60,415.50 80.85,415.50 100.10,398.39 119.35,372.74 138.60,364.18 157.85,372.74 177.10,372.74 196.35,304.32 215.60,270.11 234.85,270.11 254.10,295.77 273.35,270.11 292.60,253.01 311.85,270.11 331.10,287.22 350.35,270.11 369.60,270.11 388.85,261.56 408.10,253.01 427.35,167.49 446.60,167.49 465.85,167.49 485.10,167.49 504.35,184.59 523.60,167.49 542.85,184.59 562.10,158.94 581.35,176.04 600.60,184.59 619.85,158.94 639.10,158.94 658.35,158.94 677.60,176.04" fill="none" stroke="#b2b2b2" stroke-width="3.6" stroke-linejoin="round"/>
<polygon points="55.90,409.80 67.30,415.50 55.90,421.20" fill="#b2b2b2"/><polygon points="75.15,409.80 86.55,415.50 75.15,421.20" fill="#b2b2b2"/><polygon points="94.40,392.69 105.80,398.39 94.40,404.09" fill="#b2b2b2"/><polygon points="113.65,367.04 125.05,372.74 113.65,378.44" fill="#b2b2b2"/><polygon points="132.90,358.48 144.30,364.18 132.90,369.88" fill="#b2b2b2"/><polygon points="152.15,367.04 163.55,372.74 152.15,378.44" fill="#b2b2b2"/><polygon points="171.40,367.04 182.80,372.74 171.40,378.44" fill="#b2b2b2"/><polygon points="190.65,298.62 202.05,304.32 190.65,310.02" fill="#b2b2b2"/><polygon points="209.90,264.41 221.30,270.11 209.90,275.81" fill="#b2b2b2"/><polygon points="229.15,264.41 240.55,270.11 229.15,275.81" fill="#b2b2b2"/><polygon points="248.40,290.07 259.80,295.77 248.40,301.47" fill="#b2b2b2"/><polygon points="267.65,264.41 279.05,270.11 267.65,275.81" fill="#b2b2b2"/><polygon points="286.90,247.31 298.30,253.01 286.90,258.71" fill="#b2b2b2"/><polygon points="306.15,264.41 317.55,270.11 306.15,275.81" fill="#b2b2b2"/><polygon points="325.40,281.52 336.80,287.22 325.40,292.92" fill="#b2b2b2"/><polygon points="344.65,264.41 356.05,270.11 344.65,275.81" fill="#b2b2b2"/><polygon points="363.90,264.41 375.30,270.11 363.90,275.81" fill="#b2b2b2"/><polygon points="383.15,255.86 394.55,261.56 383.15,267.26" fill="#b2b2b2"/><polygon points="402.40,247.31 413.80,253.01 402.40,258.71" fill="#b2b2b2"/><polygon points="421.65,161.79 433.05,167.49 421.65,173.19" fill="#b2b2b2"/><polygon points="440.90,161.79 452.30,167.49 440.90,173.19" fill="#b2b2b2"/><polygon points="460.15,161.79 471.55,167.49 460.15,173.19" fill="#b2b2b2"/><polygon points="479.40,161.79 490.80,167.49 479.40,173.19" fill="#b2b2b2"/><polygon points="498.65,178.89 510.05,184.59 498.65,190.29" fill="#b2b2b2"/><polygon points="517.90,161.79 529.30,167.49 517.90,173.19" fill="#b2b2b2"/><polygon points="537.15,178.89 548.55,184.59 537.15,190.29" fill="#b2b2b2"/><polygon points="556.40,153.24 567.80,158.94 556.40,164.64" fill="#b2b2b2"/><polygon points="575.65,170.34 587.05,176.04 575.65,181.74" fill="#b2b2b2"/><polygon points="594.90,178.89 606.30,184.59 594.90,190.29" fill="#b2b2b2"/><polygon points="614.15,153.24 625.55,158.94 614.15,164.64" fill="#b2b2b2"/><polygon points="633.40,153.24 644.80,158.94 633.40,164.64" fill="#b2b2b2"/><polygon points="652.65,153.24 664.05,158.94 652.65,164.64" fill="#b2b2b2"/><polygon points="671.90,170.34 683.30,176.04 671.90,181.74" fill="#b2b2b2"/>
</g>
<rect x="67.44999999999999" y="8.65" width="358.00000000000006" height="135.3" fill="#fff" stroke="#b3b3b3" stroke-width="2.7"/>
<path d="M78 17.75H144" stroke="#b2b2b2" stroke-width="3.7" fill="none"/>
<polygon points="106.40,13.25 115.40,17.75 106.40,22.25" fill="#b2b2b2"/>
<text transform="translate(147.3 22.65) scale(0.95 1)" font-size="14.2" stroke="#000" stroke-width="0.25"><tspan x="-0.29" letter-spacing="-0.27">New</tspan> <tspan x="32.00" letter-spacing="-0.40">Ver.1</tspan> <tspan x="65.15" letter-spacing="0.15">k={n+1,</tspan> <tspan x="115.99" letter-spacing="0.41">n+2,</tspan> <tspan x="146.73" letter-spacing="0.14">n+3}</tspan></text>
<path d="M78 34.52H144" stroke="#808080" stroke-width="3.7" fill="none"/>
<circle cx="110.90" cy="34.52" r="4.7" fill="#808080"/>
<text transform="translate(147.3 39.42) scale(0.95 1)" font-size="14.2" stroke="#000" stroke-width="0.25"><tspan x="-0.29" letter-spacing="-0.27">New</tspan> <tspan x="32.00" letter-spacing="-0.40">Ver.2</tspan> <tspan x="65.15" letter-spacing="0.15">k={n+1,</tspan> <tspan x="115.99" letter-spacing="0.41">n+2,</tspan> <tspan x="146.73" letter-spacing="0.14">n+3}</tspan></text>
<path d="M78 51.29H144" stroke="#666666" stroke-width="3.7" fill="none"/>
<polygon points="115.40,46.79 106.40,51.29 115.40,55.79" fill="#666666"/>
<text transform="translate(147.3 56.19) scale(0.95 1)" font-size="14.2" stroke="#000" stroke-width="0.25"><tspan x="-0.29" letter-spacing="-0.27">New</tspan> <tspan x="32.00" letter-spacing="-0.44">Ver.3</tspan> <tspan x="65.15" letter-spacing="0.15">k={n+1,</tspan> <tspan x="115.99" letter-spacing="0.41">n+2,</tspan> <tspan x="146.73" letter-spacing="0.14">n+3}</tspan></text>
<path d="M78 68.06H144" stroke="#000000" stroke-width="3.85" stroke-dasharray="6.7 6.2" fill="none"/>
<circle cx="110.90" cy="68.06" r="4.7" fill="#000000"/>
<text transform="translate(147.3 72.96) scale(0.95 1)" font-size="14.2" stroke="#000" stroke-width="0.25"><tspan x="-0.29" letter-spacing="-0.27">New</tspan> <tspan x="32.00" letter-spacing="-0.47">Ver.4</tspan> <tspan x="65.15" letter-spacing="0.15">k={n+1,</tspan> <tspan x="115.99" letter-spacing="0.41">n+2,</tspan> <tspan x="146.73" letter-spacing="0.14">n+3}</tspan></text>
<path d="M78 84.83H144" stroke="#2a2a2a" stroke-width="2.4" stroke-dasharray="4.5 3.6" fill="none"/>
<polygon points="106.40,80.33 110.90,84.83 115.40,80.33 115.40,89.33 110.90,84.83 106.40,89.33" fill="#3a3a3a"/>
<text transform="translate(147.3 89.73) scale(0.95 1)" font-size="14.2" stroke="#000" stroke-width="0.25"><tspan x="0.10" letter-spacing="-0.04">(Patronik</tspan> <tspan x="60.06" letter-spacing="-0.06">and</tspan> <tspan x="87.39" letter-spacing="0.08">Piestrak,</tspan> <tspan x="145.61" letter-spacing="0.05">2018)</tspan> <tspan x="185.26" letter-spacing="-0.95">v.</tspan> <tspan x="197.43">1</tspan></text>
<path d="M78 101.60H144" stroke="#ffd320" stroke-width="3.7" fill="none"/>
<polygon points="106.40,97.10 110.90,101.60 115.40,97.10 115.40,106.10 110.90,101.60 106.40,106.10" fill="#ffd320"/>
<text transform="translate(147.3 106.50) scale(0.95 1)" font-size="14.2" stroke="#000" stroke-width="0.25"><tspan x="0.37" letter-spacing="-0.03">[Hiasat2019</tspan> <tspan x="80.67" letter-spacing="-0.12">w/regular</tspan> <tspan x="141.81" letter-spacing="-0.97">FA]</tspan> <tspan x="164.10" letter-spacing="-0.80">p={1,</tspan> <tspan x="199.71" letter-spacing="-1.60">2,</tspan> <tspan x="214.63" letter-spacing="-0.54">3}</tspan></text>
<path d="M78 118.37H144" stroke="#aecf00" stroke-width="3.7" fill="none"/>
<polygon points="106.40,113.87 115.40,113.87 110.90,118.37 115.40,122.87 106.40,122.87 110.90,118.37" fill="#aecf00"/>
<text transform="translate(147.3 123.27) scale(0.95 1)" font-size="14.2" stroke="#000" stroke-width="0.25"><tspan x="0.37" letter-spacing="-0.03">[Hiasat2019</tspan> <tspan x="80.67" letter-spacing="0.21">w/special</tspan> <tspan x="142.86" letter-spacing="-1.50">FA]</tspan> <tspan x="164.94" letter-spacing="-0.75">p={1,</tspan> <tspan x="200.34" letter-spacing="-1.60">2,</tspan> <tspan x="215.36" letter-spacing="-0.44">3}</tspan></text>
<path d="M78 135.14H144" stroke="#000000" stroke-width="2.65" stroke-dasharray="4.5 3.6" fill="none"/>
<polygon points="106.40,130.64 115.40,130.64 110.90,139.64" fill="#000000"/>
<text transform="translate(147.3 140.04) scale(0.95 1)" font-size="14.2" stroke="#000" stroke-width="0.25"><tspan x="0.10" letter-spacing="-0.14">(Chaves</tspan> <tspan x="57.22" letter-spacing="-0.16">and</tspan> <tspan x="84.06" letter-spacing="0.24">Sousa,</tspan> <tspan x="131.82" letter-spacing="0.18">2007)</tspan> <tspan x="172.10" letter-spacing="0.06">k={n+1,</tspan> <tspan x="222.52" letter-spacing="0.16">n+2,</tspan> <tspan x="252.94" letter-spacing="0.07">n+3}</tspan></text>
<text x="51.5" y="523.02" font-size="14.4" stroke="#000" stroke-width="0.3" text-anchor="end">1,1</text>
<text x="51.5" y="437.50" font-size="14.4" stroke="#000" stroke-width="0.3" text-anchor="end">1,2</text>
<text x="51.5" y="351.98" font-size="14.4" stroke="#000" stroke-width="0.3" text-anchor="end">1,3</text>
<text x="51.5" y="266.46" font-size="14.4" stroke="#000" stroke-width="0.3" text-anchor="end">1,4</text>
<text x="51.5" y="180.94" font-size="14.4" stroke="#000" stroke-width="0.3" text-anchor="end">1,5</text>
<text x="51.5" y="95.42" font-size="14.4" stroke="#000" stroke-width="0.3" text-anchor="end">1,6</text>
<text x="51.5" y="9.90" font-size="14.4" stroke="#000" stroke-width="0.3" text-anchor="end">1,7</text>
<text x="61.60" y="541.7" font-size="14.4" stroke="#000" stroke-width="0.3" text-anchor="middle">8</text>
<text x="138.60" y="541.7" font-size="14.4" stroke="#000" stroke-width="0.3" text-anchor="middle">12</text>
<text x="215.60" y="541.7" font-size="14.4" stroke="#000" stroke-width="0.3" text-anchor="middle">16</text>
<text x="292.60" y="541.7" font-size="14.4" stroke="#000" stroke-width="0.3" text-anchor="middle">20</text>
<text x="369.60" y="541.7" font-size="14.4" stroke="#000" stroke-width="0.3" text-anchor="middle">24</text>
<text x="446.60" y="541.7" font-size="14.4" stroke="#000" stroke-width="0.3" text-anchor="middle">28</text>
<text x="523.60" y="541.7" font-size="14.4" stroke="#000" stroke-width="0.3" text-anchor="middle">32</text>
<text x="600.60" y="541.7" font-size="14.4" stroke="#000" stroke-width="0.3" text-anchor="middle">36</text>
<text x="677.60" y="541.7" font-size="14.4" stroke="#000" stroke-width="0.3" text-anchor="middle">40</text>
<text x="515.6" y="558.6" font-size="16" stroke="#000" stroke-width="0.3">Dynamic range [bits]</text>
<text transform="translate(12.6 149.2) rotate(-90)" font-size="16" stroke="#000" stroke-width="0.3" textLength="97.6" lengthAdjust="spacing">Mindelay [ns]</text>
</svg>
</body></html>
